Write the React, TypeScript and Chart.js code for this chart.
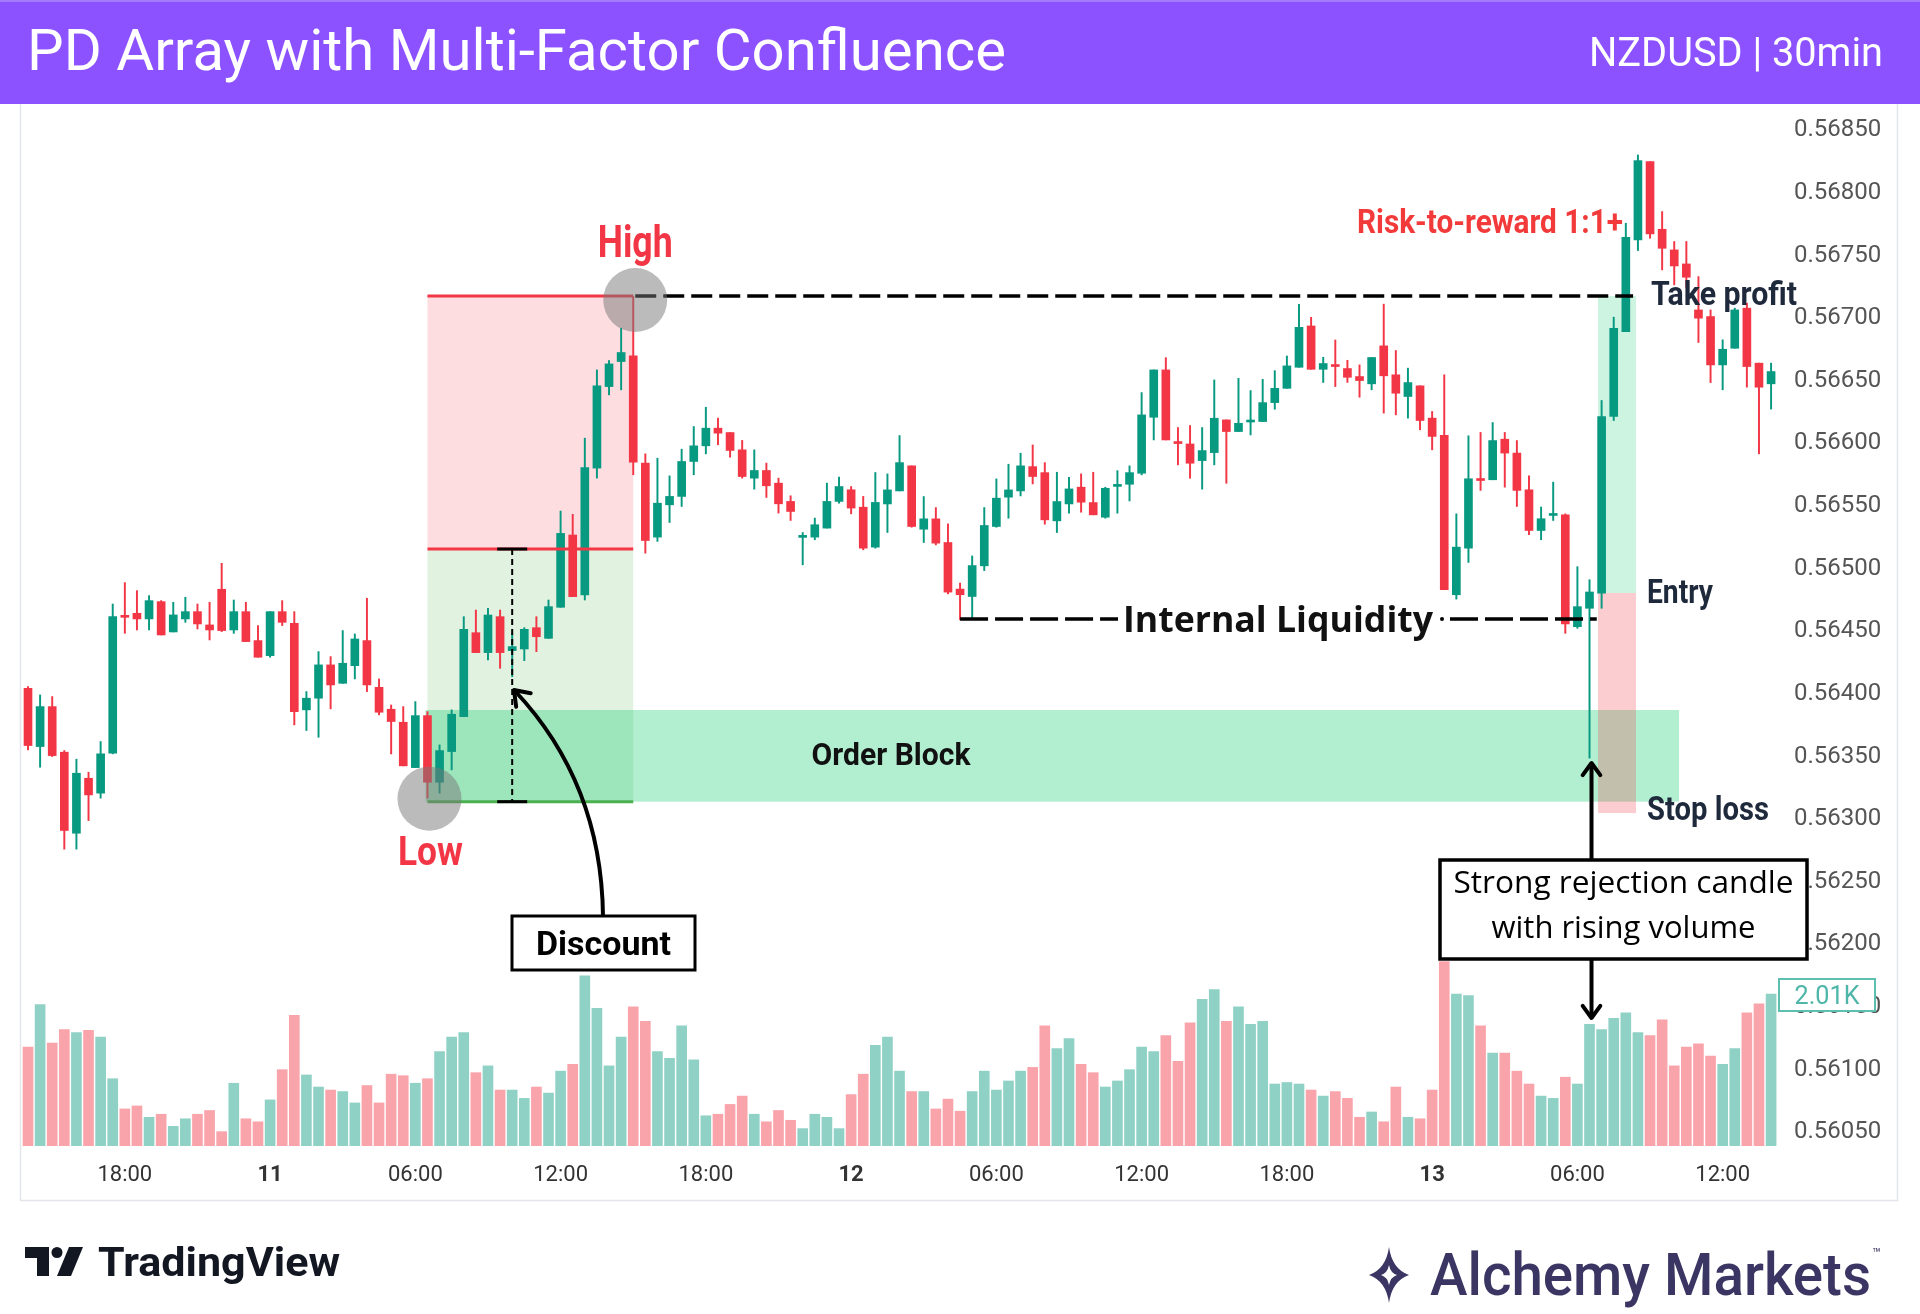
import React, { useEffect, useRef } from 'react';
import { Chart, registerables } from 'chart.js';

Chart.register(...registerables);

// ---- Data (NZDUSD 30min, 10 Jan 14:00 -> 13 Jan 14:00) ----
const opens = [
  0.564021, 0.563556, 0.563875, 0.563511, 0.562864, 0.563303, 0.563184, 0.563503, 0.564593, 0.56462,
  0.564575, 0.564713, 0.564471, 0.564575, 0.564633, 0.564527, 0.564812, 0.564487, 0.564633, 0.564402,
  0.564282, 0.564633, 0.56454, 0.563849, 0.563942, 0.564208, 0.564061, 0.564202, 0.564402, 0.564029,
  0.563854, 0.56375, 0.563388, 0.563803, 0.563271, 0.563516, 0.563795, 0.564465, 0.564306, 0.564593,
  0.564322, 0.564335, 0.564505, 0.56442, 0.564668, 0.565245, 0.564766, 0.565779, 0.56643, 0.56663,
  0.566675, 0.565819, 0.565228, 0.565486, 0.565553, 0.565832, 0.565957, 0.566098, 0.566063, 0.565925,
  0.565699, 0.56576, 0.565659, 0.565513, 0.565226, 0.565228, 0.5653, 0.565513, 0.565606, 0.565467,
  0.565148, 0.565493, 0.565597, 0.565797, 0.565291, 0.565374, 0.565185, 0.564813, 0.564754, 0.564999,
  0.565313, 0.565547, 0.565597, 0.565791, 0.565743, 0.565358, 0.565493, 0.565627, 0.565504, 0.565387,
  0.565633, 0.56565, 0.565738, 0.566185, 0.566563, 0.565981, 0.565972, 0.565839, 0.565903, 0.566164,
  0.566071, 0.566147, 0.566151, 0.566302, 0.566416, 0.566584, 0.566914, 0.566568, 0.566597, 0.566574,
  0.56651, 0.566452, 0.566755, 0.566524, 0.566351, 0.566436, 0.566178, 0.56604, 0.564768, 0.56514,
  0.565689, 0.565686, 0.56601, 0.565899, 0.565606, 0.565281, 0.565401, 0.565407, 0.564513, 0.56466,
  0.564781, 0.566191, 0.566869, 0.567601, 0.568226, 0.567686, 0.567521, 0.567409, 0.567042, 0.566989,
  0.566603, 0.566736, 0.567056, 0.566617, 0.566452,
];
const highs = [
  0.564035, 0.563968, 0.563955, 0.563524, 0.563455, 0.563351, 0.563596, 0.564694, 0.564865, 0.564801,
  0.564761, 0.564721, 0.564708, 0.564748, 0.564694, 0.564708, 0.565019, 0.564726, 0.564708, 0.564522,
  0.564633, 0.564721, 0.564633, 0.563995, 0.564314, 0.564274, 0.564482, 0.564455, 0.56474, 0.564096,
  0.563888, 0.563875, 0.563915, 0.563835, 0.563569, 0.563849, 0.564593, 0.564646, 0.564659, 0.564646,
  0.56446, 0.564505, 0.564593, 0.564726, 0.565436, 0.56541, 0.566018, 0.566563, 0.566638, 0.566896,
  0.567149, 0.565893, 0.565858, 0.565717, 0.56593, 0.566111, 0.566265, 0.566178, 0.566063, 0.566,
  0.565925, 0.565819, 0.565699, 0.565558, 0.565265, 0.56538, 0.565659, 0.565707, 0.565632, 0.565553,
  0.565744, 0.565733, 0.566039, 0.565797, 0.565552, 0.565464, 0.565334, 0.564861, 0.565078, 0.565464,
  0.565693, 0.56581, 0.565898, 0.565964, 0.565823, 0.565746, 0.565706, 0.565733, 0.565746, 0.565626,
  0.565759, 0.565797, 0.566382, 0.566563, 0.566661, 0.566103, 0.566119, 0.566103, 0.566483, 0.566164,
  0.566496, 0.566398, 0.566488, 0.566557, 0.566674, 0.567087, 0.566983, 0.566664, 0.566802, 0.56664,
  0.566603, 0.566662, 0.567088, 0.566718, 0.566577, 0.566436, 0.566231, 0.566524, 0.565414, 0.566037,
  0.566064, 0.566143, 0.566064, 0.565999, 0.565718, 0.565468, 0.565667, 0.565414, 0.564992, 0.564888,
  0.566319, 0.566984, 0.567734, 0.568279, 0.568226, 0.567827, 0.567588, 0.567588, 0.567308, 0.567042,
  0.566803, 0.567056, 0.567096, 0.566617, 0.566617,
];
const lows = [
  0.563529, 0.563391, 0.563476, 0.562737, 0.562737, 0.562965, 0.563144, 0.563498, 0.56446, 0.564487,
  0.564487, 0.564447, 0.564471, 0.564548, 0.564495, 0.564407, 0.564474, 0.56446, 0.564394, 0.564269,
  0.564269, 0.564522, 0.563729, 0.563684, 0.56363, 0.563857, 0.564061, 0.564096, 0.563995, 0.563809,
  0.563497, 0.563402, 0.563388, 0.563144, 0.563184, 0.56337, 0.563795, 0.564306, 0.564247, 0.564181,
  0.564114, 0.564242, 0.564314, 0.56442, 0.564668, 0.564753, 0.564726, 0.565699, 0.566364, 0.566404,
  0.565726, 0.5651, 0.565194, 0.565345, 0.565473, 0.565726, 0.565893, 0.565965, 0.565866, 0.565699,
  0.565611, 0.565545, 0.56542, 0.565361, 0.565007, 0.565207, 0.5653, 0.565499, 0.565414, 0.565127,
  0.56514, 0.565265, 0.565597, 0.565307, 0.565185, 0.565166, 0.564775, 0.564568, 0.564581, 0.564961,
  0.565307, 0.565379, 0.565557, 0.565653, 0.565331, 0.565265, 0.565419, 0.565427, 0.565406, 0.565379,
  0.565419, 0.565517, 0.565725, 0.566004, 0.566004, 0.565805, 0.565698, 0.565611, 0.565805, 0.565658,
  0.566071, 0.566044, 0.566151, 0.566249, 0.566416, 0.566584, 0.566568, 0.566463, 0.56643, 0.566463,
  0.566345, 0.566404, 0.566218, 0.566204, 0.566178, 0.566085, 0.565925, 0.564808, 0.564733, 0.565026,
  0.565601, 0.565686, 0.565627, 0.565473, 0.565247, 0.565207, 0.565361, 0.56446, 0.5645, 0.563464,
  0.56466, 0.566159, 0.566869, 0.567516, 0.567614, 0.567362, 0.567242, 0.567223, 0.566782, 0.566462,
  0.566404, 0.566736, 0.566425, 0.565893, 0.56625,
];
const closes = [
  0.563564, 0.563875, 0.563484, 0.562886, 0.563343, 0.56317, 0.563498, 0.564593, 0.564588, 0.564575,
  0.564721, 0.564447, 0.564607, 0.564633, 0.564535, 0.564487, 0.564482, 0.564633, 0.564394, 0.564269,
  0.564633, 0.564548, 0.563835, 0.563942, 0.564208, 0.564048, 0.564221, 0.564415, 0.564048, 0.56383,
  0.563756, 0.563402, 0.563803, 0.563271, 0.563524, 0.563814, 0.564492, 0.564306, 0.564606, 0.564306,
  0.564354, 0.564492, 0.564433, 0.564673, 0.565258, 0.564753, 0.565784, 0.566436, 0.566611, 0.566702,
  0.565827, 0.565201, 0.565499, 0.565553, 0.565832, 0.565957, 0.566098, 0.566058, 0.56592, 0.565712,
  0.56576, 0.565638, 0.565494, 0.565433, 0.565236, 0.565327, 0.565513, 0.565632, 0.56546, 0.56514,
  0.565505, 0.565605, 0.565823, 0.565313, 0.565374, 0.56518, 0.564789, 0.564768, 0.565001, 0.565321,
  0.565539, 0.565605, 0.565797, 0.565712, 0.565366, 0.565512, 0.565613, 0.565507, 0.565406, 0.565618,
  0.565637, 0.565743, 0.566204, 0.566563, 0.566004, 0.565975, 0.565818, 0.565919, 0.566177, 0.566071,
  0.566137, 0.566151, 0.566302, 0.566416, 0.566595, 0.566903, 0.566568, 0.566614, 0.56659, 0.566504,
  0.566478, 0.566662, 0.566516, 0.566377, 0.566462, 0.566159, 0.566032, 0.564808, 0.565148, 0.565694,
  0.56568, 0.565999, 0.565899, 0.565601, 0.565281, 0.565375, 0.565407, 0.564535, 0.564673, 0.56479,
  0.566191, 0.566896, 0.567622, 0.568234, 0.567649, 0.567534, 0.567393, 0.567303, 0.566976, 0.566603,
  0.566728, 0.567042, 0.56659, 0.566425, 0.56655,
];
// volume in thousands
const volumes = [
  1.31, 1.87, 1.36, 1.54, 1.5, 1.53, 1.44, 0.89, 0.49, 0.53,
  0.38, 0.42, 0.26, 0.36, 0.42, 0.47, 0.19, 0.83, 0.36, 0.32,
  0.61, 1.01, 1.73, 0.94, 0.78, 0.74, 0.72, 0.57, 0.8, 0.57,
  0.95, 0.93, 0.83, 0.89, 1.25, 1.44, 1.5, 0.97, 1.06, 0.74,
  0.74, 0.63, 0.78, 0.7, 0.99, 1.08, 2.25, 1.82, 1.06, 1.44,
  1.84, 1.65, 1.25, 1.16, 1.59, 1.14, 0.4, 0.42, 0.55, 0.66,
  0.42, 0.32, 0.47, 0.34, 0.23, 0.42, 0.38, 0.23, 0.68, 0.95,
  1.33, 1.44, 0.99, 0.72, 0.72, 0.49, 0.62, 0.46, 0.72, 0.99,
  0.74, 0.86, 0.99, 1.04, 1.59, 1.29, 1.42, 1.08, 0.97, 0.78,
  0.86, 1.01, 1.31, 1.25, 1.46, 1.12, 1.63, 1.94, 2.07, 1.65,
  1.84, 1.61, 1.65, 0.82, 0.84, 0.82, 0.74, 0.66, 0.72, 0.63,
  0.38, 0.45, 0.32, 0.78, 0.38, 0.36, 0.74, 2.44, 2.01, 1.99,
  1.59, 1.23, 1.23, 0.99, 0.82, 0.66, 0.63, 0.91, 0.82, 1.61,
  1.54, 1.69, 1.76, 1.5, 1.46, 1.67, 1.06, 1.31, 1.35, 1.19,
  1.08, 1.29, 1.76, 1.88, 2.01,
];
const xTickIndex = [8, 20, 32, 44, 56, 68, 80, 92, 104, 116, 128, 140];
const xTickLabels = ['18:00', '11', '06:00', '12:00', '18:00', '12', '06:00', '12:00', '18:00', '13', '06:00', '12:00'];
const dayLabels = ['11', '12', '13'];
const priceTicks = [
  0.5605, 0.561, 0.5615, 0.562, 0.5625, 0.563, 0.5635, 0.564, 0.5645,
  0.565, 0.5655, 0.566, 0.5665, 0.567, 0.5675, 0.568, 0.5685,
];

// annotation levels
const HIGH = 0.567153;
const EQ = 0.565133;
const LOW = 0.563116;
const OB_TOP = 0.563848;
const ENTRY = 0.564782;
const STOP = 0.563025;
const LIQ = 0.564574;
const HIGH_IDX = 50;
const LOW_IDX = 33;
const LIQ_IDX = 77;
const REJ_IDX = 129;
const LAST_VOL_LABEL = '2.01K';

const W = 1920;
const H = 1314;
const UP = '#089981';
const DN = '#f23645';

function fitText(ctx: CanvasRenderingContext2D, text: string, x: number, y: number, font: string, color: string, align: 'left' | 'center' | 'right', width?: number) {
  ctx.save();
  ctx.font = font;
  ctx.fillStyle = color;
  ctx.textBaseline = 'alphabetic';
  ctx.textAlign = 'left';
  const w = ctx.measureText(text).width;
  const tw = width ?? w;
  const s = tw / w;
  const left = align === 'center' ? x - tw / 2 : align === 'right' ? x - tw : x;
  ctx.translate(left, y);
  ctx.scale(s, 1);
  ctx.fillText(text, 0, 0);
  ctx.restore();
}

function line(ctx: CanvasRenderingContext2D, x1: number, y1: number, x2: number, y2: number, color: string, width: number, dash: number[] = []) {
  ctx.save();
  ctx.strokeStyle = color;
  ctx.lineWidth = width;
  ctx.setLineDash(dash);
  ctx.beginPath();
  ctx.moveTo(x1, y1);
  ctx.lineTo(x2, y2);
  ctx.stroke();
  ctx.restore();
}

function chevron(ctx: CanvasRenderingContext2D, tx: number, ty: number, dx: number, dy: number, len: number, width: number) {
  const a = Math.atan2(dy, dx);
  const sp = Math.PI / 5;
  ctx.save();
  ctx.strokeStyle = '#000';
  ctx.lineWidth = width;
  ctx.lineCap = 'round';
  ctx.lineJoin = 'round';
  ctx.beginPath();
  ctx.moveTo(tx - len * Math.cos(a - sp), ty - len * Math.sin(a - sp));
  ctx.lineTo(tx, ty);
  ctx.lineTo(tx - len * Math.cos(a + sp), ty - len * Math.sin(a + sp));
  ctx.stroke();
  ctx.restore();
}

const annotPlugin = {
  id: 'annot',
  beforeDraw(chart: any) {
    const ctx: CanvasRenderingContext2D = chart.ctx;
    ctx.save();
    ctx.fillStyle = '#ffffff';
    ctx.fillRect(0, 0, W, H);
    ctx.strokeStyle = '#e3e5ea';
    ctx.lineWidth = 1.5;
    ctx.strokeRect(20.5, 90.5, 1877, 1110);
    ctx.restore();
  },
  beforeDatasetsDraw(chart: any) {
    const ctx: CanvasRenderingContext2D = chart.ctx;
    const xs = chart.scales.x;
    const ys = chart.scales.y;
    const X = (v: number) => xs.getPixelForValue(v);
    const Y = (v: number) => ys.getPixelForValue(v);
    ctx.save();
    const rect = (x1: number, y1: number, x2: number, y2: number, c: string) => {
      ctx.fillStyle = c;
      ctx.fillRect(x1, y1, x2 - x1, y2 - y1);
    };
    rect(X(LOW_IDX), Y(HIGH), X(HIGH_IDX), Y(EQ), 'rgba(242,54,69,0.17)');
    rect(X(LOW_IDX), Y(EQ), X(HIGH_IDX), Y(LOW), 'rgba(76,175,80,0.17)');
    rect(X(LOW_IDX) - 2, Y(OB_TOP), X(136.4), Y(LOW), 'rgba(0,200,100,0.3)');
    rect(X(129.7), Y(HIGH), X(132.84), Y(ENTRY), 'rgba(0,200,100,0.2)');
    rect(X(129.7), Y(ENTRY), X(132.84), Y(STOP), 'rgba(242,54,69,0.25)');
    ctx.restore();
  },
  afterDraw(chart: any) {
    const ctx: CanvasRenderingContext2D = chart.ctx;
    const xs = chart.scales.x;
    const ys = chart.scales.y;
    const X = (v: number) => xs.getPixelForValue(v);
    const Y = (v: number) => ys.getPixelForValue(v);
    const cond = (s: number) => `bold ${s}px Roboto`;

    line(ctx, X(LOW_IDX), Y(HIGH), X(HIGH_IDX), Y(HIGH), '#f23645', 3);
    line(ctx, X(LOW_IDX), Y(EQ), X(HIGH_IDX), Y(EQ), '#f23645', 3);
    line(ctx, X(LOW_IDX), Y(LOW), X(HIGH_IDX), Y(LOW), '#4caf50', 3);

    const mx = X(40);
    line(ctx, mx, Y(EQ), mx, Y(LOW), '#000', 2, [6, 4]);
    line(ctx, mx - 15, Y(EQ), mx + 15, Y(EQ), '#000', 3);
    line(ctx, mx - 15, Y(LOW), mx + 15, Y(LOW), '#000', 3);

    line(ctx, X(HIGH_IDX) + 2, Y(HIGH), X(132.6), Y(HIGH), '#000', 3.5, [21, 7]);

    const ly = Y(LIQ);
    line(ctx, X(LIQ_IDX), ly, 1118, ly, '#000', 3.5, [28, 7]);
    line(ctx, 1450, ly, X(129.6), ly, '#000', 3.5, [28, 7]);
    ctx.save();
    ctx.fillStyle = '#000';
    ctx.beginPath();
    ctx.arc(1442, ly, 2, 0, Math.PI * 2);
    ctx.fill();
    ctx.restore();
    fitText(ctx, 'Internal Liquidity', 1123, ly + 13, 'bold 35px "Open Sans"', '#111111', 'left', 310);

    ctx.save();
    ctx.fillStyle = 'rgba(120,120,120,0.5)';
    ctx.beginPath();
    ctx.arc(X(HIGH_IDX) + 2, Y(HIGH) + 4, 32, 0, Math.PI * 2);
    ctx.fill();
    ctx.beginPath();
    ctx.arc(X(LOW_IDX) + 2, Y(LOW) - 3, 32, 0, Math.PI * 2);
    ctx.fill();
    ctx.restore();

    fitText(ctx, 'High', X(HIGH_IDX) + 2, 257, cond(44), '#f23645', 'center', 75);
    fitText(ctx, 'Low', X(LOW_IDX) + 3, 865, cond(40), '#f23645', 'center', 65);
    fitText(ctx, 'Order Block', 891, 765, cond(31), '#111111', 'center', 159);
    fitText(ctx, 'Risk-to-reward 1:1+', 1357, 233, cond(34), '#f33a3a', 'left', 266);
    fitText(ctx, 'Take profit', 1651, 305, cond(33), '#1e293b', 'left', 146);
    fitText(ctx, 'Entry', 1647, 603, cond(33), '#1e293b', 'left', 66);
    fitText(ctx, 'Stop loss', 1647, 820, cond(33), '#1e293b', 'left', 122);

    ctx.save();
    ctx.strokeStyle = '#000';
    ctx.lineWidth = 4;
    ctx.lineCap = 'round';
    ctx.beginPath();
    ctx.moveTo(603, 916);
    ctx.quadraticCurveTo(601.5, 783, 515, 691);
    ctx.stroke();
    ctx.restore();
    chevron(ctx, 514, 690, -87.5, -93, 17, 4);
    ctx.save();
    ctx.fillStyle = '#fff';
    ctx.fillRect(512, 916, 183, 54);
    ctx.strokeStyle = '#000';
    ctx.lineWidth = 3;
    ctx.strokeRect(512, 916, 183, 54);
    ctx.restore();
    fitText(ctx, 'Discount', 603.5, 955, cond(33), '#000', 'center', 135);

    const ax = X(REJ_IDX) + 2;
    line(ctx, ax, 860, ax, 765, '#000', 4);
    chevron(ctx, ax, 763, 0, -1, 15, 4);
    line(ctx, ax, 959, ax, 1016, '#000', 4);
    chevron(ctx, ax, 1018, 0, 1, 15, 4);
    ctx.save();
    ctx.fillStyle = '#fff';
    ctx.fillRect(1440, 860, 367, 99);
    ctx.strokeStyle = '#000';
    ctx.lineWidth = 3.5;
    ctx.strokeRect(1440, 860, 367, 99);
    ctx.restore();
    fitText(ctx, 'Strong rejection candle', 1623.5, 893, '31px "Open Sans"', '#000', 'center', 340);
    fitText(ctx, 'with rising volume', 1623.5, 938, '31px "Open Sans"', '#000', 'center');

    ctx.save();
    ctx.fillStyle = '#fff';
    ctx.fillRect(1779, 979, 96, 32);
    ctx.strokeStyle = '#5cbfb0';
    ctx.lineWidth = 2;
    ctx.strokeRect(1779, 979, 96, 32);
    ctx.restore();
    fitText(ctx, LAST_VOL_LABEL, 1827, 1004, '25px Roboto', '#4db6a8', 'center', 65);

    // header
    ctx.save();
    ctx.fillStyle = '#8c52ff';
    ctx.fillRect(0, 0, W, 104);
    ctx.fillStyle = '#a47bff';
    ctx.fillRect(0, 0, W, 2);
    ctx.restore();
    fitText(ctx, 'PD Array with Multi-Factor Confluence', 27, 70, '58px Roboto', '#ffffff', 'left', 979);
    fitText(ctx, 'NZDUSD | 30min', 1883, 66, '41px Roboto', '#ffffff', 'right', 294);

    // footer: TradingView
    ctx.save();
    ctx.fillStyle = '#131722';
    ctx.translate(25, 1247);
    ctx.beginPath();
    ctx.moveTo(0, 0);
    ctx.lineTo(24, 0);
    ctx.lineTo(24, 29);
    ctx.lineTo(12, 29);
    ctx.lineTo(12, 11);
    ctx.lineTo(0, 11);
    ctx.closePath();
    ctx.fill();
    ctx.beginPath();
    ctx.arc(32, 5.5, 5.5, 0, Math.PI * 2);
    ctx.fill();
    ctx.beginPath();
    ctx.moveTo(44, 0);
    ctx.lineTo(58, 0);
    ctx.lineTo(46, 29);
    ctx.lineTo(32, 29);
    ctx.closePath();
    ctx.fill();
    ctx.restore();
    fitText(ctx, 'TradingView', 98, 1276, 'bold 40px Roboto', '#131722', 'left', 242);

    // footer: Alchemy Markets (four-pointed star mark)
    ctx.save();
    ctx.translate(1389, 1275);
    ctx.fillStyle = '#3b3563';
    ctx.beginPath();
    ctx.moveTo(0, -28);
    ctx.quadraticCurveTo(3, -6, 20, 0);
    ctx.quadraticCurveTo(3, 6, 0, 28);
    ctx.quadraticCurveTo(-3, 6, -20, 0);
    ctx.quadraticCurveTo(-3, -6, 0, -28);
    ctx.closePath();
    ctx.fill();
    ctx.fillStyle = '#ffffff';
    ctx.beginPath();
    ctx.moveTo(0, -10);
    ctx.quadraticCurveTo(1.5, -2, 8, 0);
    ctx.quadraticCurveTo(1.5, 2, 0, 10);
    ctx.quadraticCurveTo(-1.5, 2, -8, 0);
    ctx.quadraticCurveTo(-1.5, -2, 0, -10);
    ctx.closePath();
    ctx.fill();
    ctx.restore();
    fitText(ctx, 'Alchemy Markets', 1430, 1295, '500 60px Roboto', '#3b3563', 'left', 441);
    fitText(ctx, '™', 1872, 1258, '14px Roboto', '#3b3563', 'left');
  },
};

export default function App() {
  const ref = useRef<HTMLCanvasElement>(null);
  useEffect(() => {
    const canvas = ref.current;
    if (!canvas) return;
    const idx = opens.map((_, i) => i);
    const isUp = idx.map((i) => closes[i] >= opens[i]);
    const candleColors = isUp.map((u) => (u ? UP : DN));
    const volColors = isUp.map((u) => (u ? 'rgba(8,153,129,0.45)' : 'rgba(242,54,69,0.45)'));

    const chart = new Chart(canvas, {
      type: 'bar',
      data: {
        datasets: [
          {
            label: 'Volume',
            data: idx.map((i) => ({ x: i, y: volumes[i] })) as any,
            backgroundColor: volColors,
            barThickness: 10,
            yAxisID: 'vol',
            order: 3,
            grouped: false,
          } as any,
          {
            label: 'Wicks',
            data: idx.map((i) => ({ x: i, y: [lows[i], highs[i]] })) as any,
            backgroundColor: candleColors,
            barThickness: 1.3,
            minBarLength: 1,
            yAxisID: 'y',
            order: 2,
            grouped: false,
          } as any,
          {
            label: 'Bodies',
            data: idx.map((i) => ({ x: i, y: [opens[i], closes[i]] })) as any,
            backgroundColor: candleColors,
            barThickness: 8,
            minBarLength: 2,
            yAxisID: 'y',
            order: 1,
            grouped: false,
          } as any,
        ],
      },
      options: {
        animation: false,
        responsive: false,
        devicePixelRatio: 1,
        layout: { padding: { left: 20, top: 105, right: 0, bottom: 0 } },
        plugins: { legend: { display: false }, tooltip: { enabled: false } },
        scales: {
          x: {
            type: 'linear',
            offset: false,
            min: -0.661,
            max: 145.15,
            grid: { display: false, drawTicks: false },
            border: { display: false },
            afterBuildTicks: (scale: any) => {
              scale.ticks = xTickIndex.map((v) => ({ value: v }));
            },
            afterFit: (scale: any) => {
              scale.height = 168;
            },
            ticks: {
              autoSkip: false,
              maxRotation: 0,
              padding: 16,
              color: '#333333',
              font: (c: any) => {
                const k = xTickIndex.indexOf(c.tick ? c.tick.value : -1);
                const lab = k >= 0 ? xTickLabels[k] : '';
                return { family: 'Roboto', size: 22, weight: dayLabels.includes(lab) ? 'bold' : 'normal' } as any;
              },
              callback: (v: any) => {
                const k = xTickIndex.indexOf(Number(v));
                return k >= 0 ? xTickLabels[k] : '';
              },
            },
          },
          y: {
            type: 'linear',
            position: 'right',
            min: 0.560367,
            max: 0.568678,
            grid: { display: false, drawTicks: false },
            border: { display: false },
            afterBuildTicks: (scale: any) => {
              scale.ticks = priceTicks.map((v) => ({ value: v }));
            },
            afterFit: (scale: any) => {
              scale.width = 135;
            },
            ticks: {
              padding: 9,
              labelOffset: 3,
              color: '#555555',
              font: { family: 'Roboto', size: 24 },
              callback: (v: any) => Number(v).toFixed(5),
            },
          },
          vol: {
            type: 'linear',
            position: 'left',
            display: false,
            min: 0,
            max: 13.77,
          },
        },
      } as any,
      plugins: [annotPlugin],
    });
    return () => chart.destroy();
  }, []);

  return (
    <div style={{ position: 'absolute', left: 0, top: 0, width: W, height: H }}>
      <canvas ref={ref} width={W} height={H} style={{ display: 'block', width: W, height: H }} />
    </div>
  );
}
